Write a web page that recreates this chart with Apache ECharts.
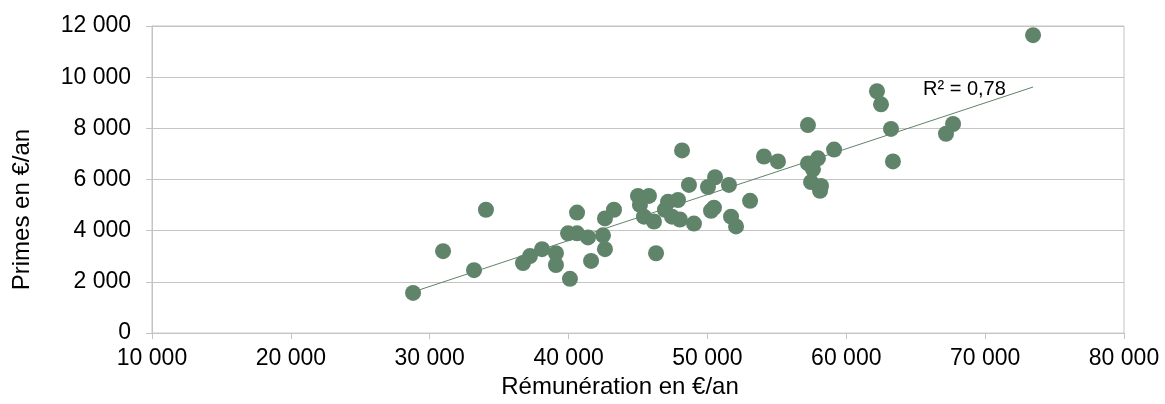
<!DOCTYPE html>
<html>
<head>
<meta charset="utf-8">
<script src="https://cdn.jsdelivr.net/npm/echarts@6/dist/echarts.min.js"></script>
<style>
html,body{margin:0;padding:0;background:#fff;}
#chart{width:1165px;height:404px;}
</style>
</head>
<body>
<div id="chart"></div>
<script>
// Rémunération (€/an)
const remuneration = [
  28800, 30960, 33190, 34050, 36720, 37220, 38090, 39090, 39090, 40100,
  39960, 40610, 40610, 41400, 41620, 42480, 42620, 42620, 43270, 45000,
  45790, 45140, 45430, 46150, 46300, 46940, 47160, 47880, 47450, 48020,
  48170, 48670, 49030, 50040, 50550, 50260, 50470, 51550, 51700, 52060,
  53070, 54070, 55080, 57240, 57240, 57600, 57960, 57460, 58180, 58110,
  59120, 62210, 62500, 63220, 63360, 67180, 67690, 73450
];
// Primes (€/an)
const primes = [
  1570, 3200, 2460, 4820, 2740, 3010, 3280, 3120, 2660, 2120,
  3900, 3900, 4710, 3740, 2820, 3820, 3280, 4480, 4820, 5360,
  5360, 5010, 4550, 4360, 3120, 4820, 5130, 5200, 4550, 4440,
  7140, 5790, 4280, 5710, 6090, 4780, 4900, 5790, 4550, 4170,
  5170, 6900, 6710, 8130, 6630, 6400, 6830, 5900, 5750, 5560,
  7170, 9450, 8940, 7980, 6710, 7790, 8170, 11640
];
const xTicks = { min: 10000, max: 80000, interval: 10000 };
const yTicks = { min: 0, max: 12000, interval: 2000 };
const r2Label = 'R² = 0,78';
const xTitle = 'Rémunération en €/an';
const yTitle = 'Primes en €/an';

const points = remuneration.map((x, i) => [x, primes[i]]);

// linear trend (least squares)
const n = points.length;
const mx = remuneration.reduce((a, b) => a + b, 0) / n;
const my = primes.reduce((a, b) => a + b, 0) / n;
let sxy = 0, sxx = 0;
for (let i = 0; i < n; i++) {
  sxy += (remuneration[i] - mx) * (primes[i] - my);
  sxx += (remuneration[i] - mx) * (remuneration[i] - mx);
}
const slope = sxy / sxx;
const icpt = my - slope * mx;
const x0 = Math.min(...remuneration), x1 = Math.max(...remuneration);
const trend = [[x0, icpt + slope * x0], [x1, icpt + slope * x1]];

const fmt = v => String(v).replace(/\B(?=(\d{3})+(?!\d))/g, ' ');
const FONT = '"Liberation Sans", Arial, sans-serif';
const GRID = '#c4c4c4';
const GREEN = '#5f846a';

const chart = echarts.init(document.getElementById('chart'), null, { renderer: 'canvas' });
chart.setOption({
  animation: false,
  backgroundColor: '#ffffff',
  grid: { left: 152, right: 41, top: 26, bottom: 67, show: true, borderColor: GRID, borderWidth: 1 },
  xAxis: {
    type: 'value',
    min: xTicks.min, max: xTicks.max, interval: xTicks.interval,
    name: xTitle, nameLocation: 'middle', nameGap: 40,
    nameTextStyle: { fontFamily: FONT, fontSize: 24, color: '#000', padding: [0, 36, 0, 0] },
    axisLine: { show: true, lineStyle: { color: GRID } },
    axisTick: { show: true, length: 6, lineStyle: { color: GRID } },
    splitLine: { show: false },
    axisLabel: { formatter: fmt, fontFamily: FONT, fontSize: 23, color: '#000', margin: 14 }
  },
  yAxis: {
    type: 'value',
    min: yTicks.min, max: yTicks.max, interval: yTicks.interval,
    name: yTitle, nameLocation: 'middle', nameGap: 118,
    nameTextStyle: { fontFamily: FONT, fontSize: 24, color: '#000', padding: [0, 60, 0, 0] },
    axisLine: { show: true, lineStyle: { color: GRID } },
    axisTick: { show: true, length: 6, lineStyle: { color: GRID } },
    splitLine: { show: true, lineStyle: { color: GRID } },
    axisLabel: { formatter: fmt, fontFamily: FONT, fontSize: 23, color: '#000', margin: 21 }
  },
  series: [
    {
      type: 'scatter',
      data: points,
      symbol: 'circle',
      symbolSize: 16,
      itemStyle: { color: GREEN, opacity: 1 },
      z: 3
    },
    {
      type: 'line',
      data: trend,
      symbol: 'none',
      lineStyle: { color: GREEN, width: 1 },
      z: 4,
      silent: true
    }
  ],
  graphic: [{
    type: 'text',
    left: 923, top: 79,
    style: { text: r2Label, font: '20px "Liberation Sans", Arial, sans-serif', fill: '#000' },
    z: 10
  }]
});
</script>
</body>
</html>
